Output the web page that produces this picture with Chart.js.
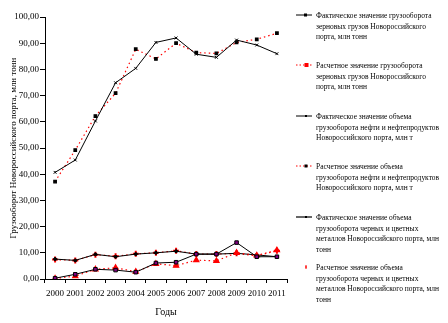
<!DOCTYPE html>
<html><head><meta charset="utf-8">
<script src="https://cdn.jsdelivr.net/npm/chart.js@4/dist/chart.umd.min.js"></script>
<style>
html,body{margin:0;padding:0;background:#fff;}
#wrap{position:relative;width:448px;height:323px;overflow:hidden;}
#c{position:absolute;left:0;top:0;}
.leg{position:absolute;left:296px;font-family:'Liberation Serif',serif;font-size:9px;color:#000;}
.leg svg{position:absolute;left:0;top:0;}
.leg .t{position:absolute;left:20px;top:0;white-space:nowrap;line-height:10.7px;transform:scaleX(0.83);transform-origin:0 0;}
</style></head>
<body><div id="wrap"><canvas id="c" width="448" height="323"></canvas>
<div id="legend"></div></div>
<script>
const years = ['2000','2001','2002','2003','2004','2005','2006','2007','2008','2009','2010','2011'];
const grainActual   = [0.3,1.8,3.7,3.4,2.6,6.1,6.4,9.5,9.5,13.9,8.5,8.5];
const grainForecast = [0.2,1.1,3.7,4.3,2.8,5.8,5.1,7.2,6.9,10.0,9.0,11.0];
const oilActual     = [40.7,45.4,60.3,74.9,80.4,90.3,92.0,85.8,84.6,91.2,89.3,86.0];
const oilForecast   = [37.2,49.2,62.2,70.9,87.7,84.0,90.0,86.4,86.1,90.3,91.5,93.8];
const metalActual   = [7.6,7.1,9.4,8.5,9.5,10.0,10.6,9.5,9.5,9.8,9.2,8.5];
const metalForecast = [7.4,7.1,9.3,8.7,9.6,10.0,10.8,9.5,9.5,9.8,8.8,10.8];
const labels = [
 'Фактическое значение грузооборота<br>зерновых грузов Новороссийского<br>порта, млн тонн',
 'Расчетное значение грузооборота<br>зерновых грузов Новороссийского<br>порта, млн тонн',
 'Фактическое значение объема<br>грузооборота нефти и нефтепродуктов<br>Новороссийского порта, млн т',
 'Расчетное значение объема<br>грузооборота нефти и нефтепродуктов<br>Новороссийского порта, млн т',
 'Фактическое значение объема<br>грузооборота черных и цветных<br>металлов Новороссийского порта, млн<br>тонн',
 'Расчетное значение объема<br>грузооборота черных и цветных<br>металлов Новороссийского порта, млн<br>тонн'
];
const yTitle = 'Грузооборот Новороссийского порта, млн тонн';
const xTitle = 'Годы';

const FONT = "'Liberation Serif', serif";
const dot = [1.5,3];
const ds = [
 {label:labels[0],data:grainActual,borderColor:'#000',borderWidth:1,pointStyle:'rect',pointRadius:2.5,pointBackgroundColor:'#800080',pointBorderColor:'#000',pointBorderWidth:1},
 {label:labels[1],data:grainForecast,borderColor:'#ff0000',borderWidth:1.2,borderDash:dot,pointStyle:'triangle',pointRadius:3,pointBackgroundColor:'#ff0000',pointBorderColor:'#ff0000'},
 {label:labels[2],data:oilActual,borderColor:'#000',borderWidth:1,pointStyle:'crossRot',pointRadius:2,pointBorderColor:'#000',pointBorderWidth:1},
 {label:labels[3],data:oilForecast,borderColor:'#ff0000',borderWidth:1.2,borderDash:dot,pointStyle:'rect',pointRadius:1.8,pointBackgroundColor:'#000',pointBorderColor:'#000'},
 {label:labels[4],data:metalActual,borderColor:'#000',borderWidth:1,pointStyle:'circle',pointRadius:1.5,pointBackgroundColor:'#000',pointBorderColor:'#000'},
 {label:labels[5],data:metalForecast,borderColor:'#ff0000',borderWidth:1.2,borderDash:dot,showLine:true,pointStyle:'cross',pointRadius:3,pointBorderColor:'#ff0000',pointBorderWidth:2}
];
ds.forEach(d=>{d.fill=false;d.tension=0;d.pointHoverRadius=d.pointRadius;});

new Chart(document.getElementById('c'),{
 type:'line',
 data:{labels:years,datasets:ds},
 options:{
  responsive:false,animation:false,
  layout:{padding:{left:0,right:161,top:17,bottom:5}},
  plugins:{legend:{display:false},tooltip:{enabled:false}},
  scales:{
   x:{offset:true,
      grid:{offset:true,drawOnChartArea:false,tickLength:4,color:'#000'},
      border:{color:'#000',width:1},
      ticks:{color:'#000',font:{family:FONT,size:9},padding:5,maxRotation:0,autoSkip:false},
      title:{display:true,text:xTitle,color:'#000',font:{family:FONT,size:10},padding:{top:0,bottom:0}},
      afterFit(s){s.height=39;}},
   y:{min:0,max:100,
      grid:{drawOnChartArea:false,tickLength:5,color:'#000'},
      border:{color:'#000',width:1},
      ticks:{stepSize:10,color:'#000',font:{family:FONT,size:9},padding:1,
             callback:v=>v.toFixed(2).replace('.',',')},
      title:{display:true,text:yTitle,color:'#000',font:{family:FONT,size:9},padding:{top:8,bottom:0}},
      afterFit(s){s.width=45;}}
  }
 }
});

// HTML legend
const tops=[15,65,116,166,217,267];
const sym=[
 '<line x1="0" y1="5" x2="16" y2="5" stroke="#000" stroke-width="1"/><rect x="8" y="3.5" width="3" height="3" fill="#000"/>',
 '<line x1="0" y1="5" x2="16" y2="5" stroke="#f00" stroke-width="1.2" stroke-dasharray="1.5 2"/><rect x="8.5" y="3" width="4" height="4" fill="#f00"/>',
 '<line x1="0" y1="5" x2="16" y2="5" stroke="#000" stroke-width="1"/><rect x="9" y="4" width="2" height="2" fill="#000"/>',
 '<line x1="0" y1="5" x2="16" y2="5" stroke="#f00" stroke-width="1.2" stroke-dasharray="1.5 2"/><rect x="8.5" y="3.5" width="3" height="3" fill="#000"/>',
 '<line x1="0" y1="5" x2="16" y2="5" stroke="#000" stroke-width="1.2"/><rect x="9" y="4" width="2" height="2" fill="#000"/>',
 '<line x1="10" y1="3" x2="10" y2="7" stroke="#f00" stroke-width="1"/><line x1="9" y1="5" x2="11" y2="5" stroke="#f00" stroke-width="1"/>'
];
let html='';
labels.forEach((l,i)=>{
 html+='<div class="leg" style="top:'+(tops[i]-5)+'px"><svg width="18" height="10">'+sym[i]+'</svg><div class="t">'+l+'</div></div>';
});
document.getElementById('legend').innerHTML=html;
</script></body></html>
